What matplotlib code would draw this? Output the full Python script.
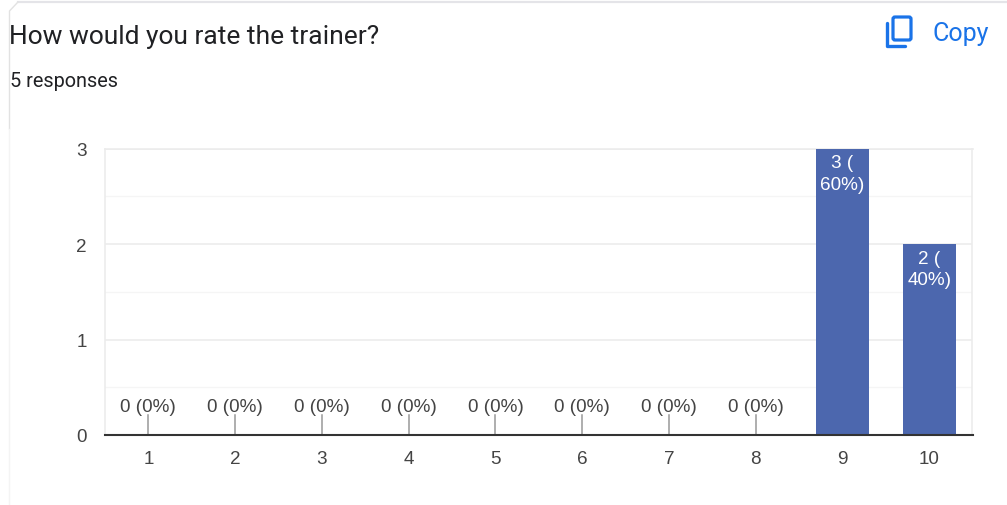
#!/usr/bin/env python3
"""Google Forms style bar chart: trainer rating responses."""

import matplotlib
matplotlib.use("Agg")
import matplotlib.pyplot as plt
from matplotlib.patches import FancyBboxPatch

ratings = [1, 2, 3, 4, 5, 6, 7, 8, 9, 10]
counts = [0, 0, 0, 0, 0, 0, 0, 0, 3, 2]
labels = ["0 (0%)"] * 8 + ["3 (\n60%)", "2 (\n40%)"]
y_ticks = [0, 1, 2, 3]
y_minor = [0.5, 1.5, 2.5]

W, H = 1007, 506
BAR = "#4c67ae"
GRID = "#ececec"
TXT = "#444444"
FS = 13.6

fig = plt.figure(figsize=(W / 100, H / 100), dpi=100, facecolor="white")

# ── Overlay in pixel coordinates for the card furniture ──────────────
bg = fig.add_axes([0, 0, 1, 1], zorder=0)
bg.set_xlim(0, W)
bg.set_ylim(H, 0)
bg.axis("off")
bg.plot([18, W], [2.5, 2.5], color="#e4e4e8", lw=1.6)
bg.plot([9.5, 9.5, 18], [130, 12, 3], color="#e2e2e2", lw=1)
bg.plot([9, 9], [130, H], color="#f4f4f4", lw=1)

bg.text(9, 37, "How would you rate the trainer?", fontsize=19, family="Roboto",
        color="#202124", va="center", ha="left")
bg.text(10, 81, "5 responses", fontsize=14.3, family="Roboto",
        color="#202124", va="center", ha="left")
bg.text(932, 34, "Copy", fontsize=18, family="Roboto",
        color="#1a73e8", va="center", ha="left")

# Copy icon
bg.add_patch(FancyBboxPatch((893, 18), 18, 23, boxstyle="round,pad=0,rounding_size=2",
                            fc="none", ec="#1a73e8", lw=2.3))
bg.plot([887, 887, 905], [24, 47, 47], color="#1a73e8", lw=2.4,
        solid_joinstyle="round", solid_capstyle="round")

# ── Chart ────────────────────────────────────────────────────────────
ax = fig.add_axes([105 / W, 1 - 436 / H, 867.5 / W, 286.5 / H], zorder=1)
ax.patch.set_alpha(0)
ax.set_xlim(0.5, 10.5)
ax.set_ylim(0, 3)

ax.bar(ratings, counts, width=0.61, color=BAR, zorder=3)

for x, c, lab in zip(ratings, counts, labels):
    if c == 0:
        ax.annotate(lab, (x, 0), xytext=(0, 28), textcoords="offset pixels",
                    ha="center", va="center", fontsize=FS,
                    family="Liberation Sans", color=TXT, zorder=5)
        ax.plot([x, x], [0, 0.21], color="#999999", lw=1.1, zorder=4)
    else:
        ax.annotate(lab, (x, c), xytext=(0, -25), textcoords="offset pixels",
                    ha="center", va="center", fontsize=FS,
                    family="Liberation Sans", color="white", zorder=5,
                    linespacing=1.36)

ax.set_yticks(y_ticks)
ax.set_yticks(y_minor, minor=True)
ax.set_xticks(ratings)
ax.grid(True, which="major", axis="y", color=GRID, lw=1.2, zorder=1)
ax.grid(True, which="minor", axis="y", color="#f5f5f5", lw=1, zorder=1)
ax.tick_params(axis="both", which="both", length=0)
ax.tick_params(axis="x", pad=11, labelsize=FS, labelcolor=TXT)
ax.tick_params(axis="y", pad=13, labelsize=FS, labelcolor=TXT)
for t in ax.get_xticklabels() + ax.get_yticklabels():
    t.set_family("Liberation Sans")

for side in ("top", "left", "right"):
    ax.spines[side].set_color(GRID)
    ax.spines[side].set_linewidth(1.2)
ax.spines["bottom"].set_color("#333333")
ax.spines["bottom"].set_linewidth(1.5)
ax.spines["bottom"].set_zorder(6)

fig.savefig("out.png", dpi=100, facecolor="white")
plt.close()
